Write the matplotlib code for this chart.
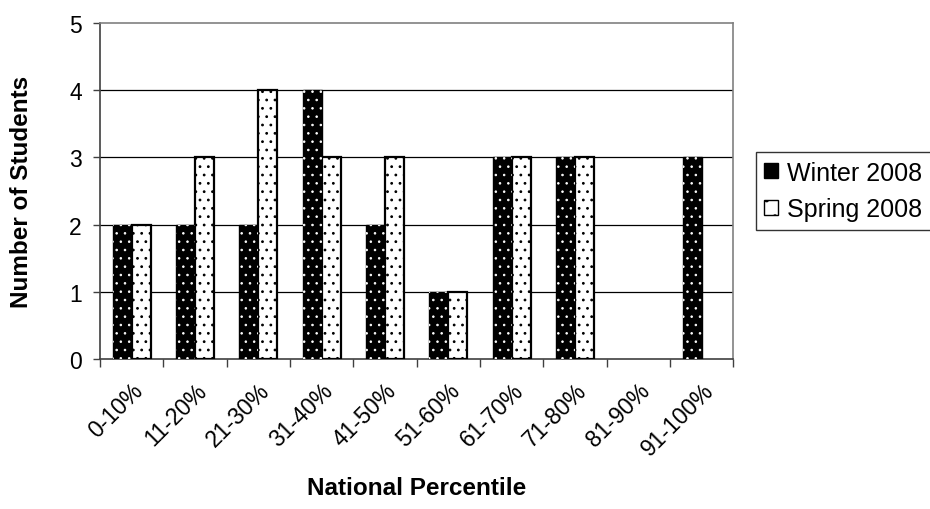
import matplotlib
matplotlib.use("Agg")
import matplotlib.pyplot as plt
import numpy as np
from matplotlib.patches import Patch
from matplotlib.ticker import FixedLocator, NullFormatter

plt.rcParams['font.family'] = ['Liberation Sans', 'DejaVu Sans']

categories = ['0-10%', '11-20%', '21-30%', '31-40%', '41-50%',
              '51-60%', '61-70%', '71-80%', '81-90%', '91-100%']
winter_2008 = [2, 2, 2, 4, 2, 1, 3, 3, 0, 3]
spring_2008 = [2, 3, 4, 3, 3, 1, 3, 3, 0, 0]
series_names = ['Winter 2008', 'Spring 2008']
y_ticks = [0, 1, 2, 3, 4, 5]

fig = plt.figure(figsize=(9.3, 5.1), dpi=100)
ax = fig.add_axes([0.1075, 0.294, 0.681, 0.659])

x = np.arange(len(categories))
w = 0.3

# Winter bars: black with white dots
with plt.rc_context({'hatch.linewidth': 0.6}):
    wb = ax.bar(x - w / 2, winter_2008, width=w, color='black', edgecolor='black',
                linewidth=1.0, zorder=3)
    wh = ax.bar(x - w / 2, winter_2008, width=w, facecolor='none', edgecolor='white',
                hatch='..', linewidth=0, zorder=4)
# Spring bars: white with black dots
with plt.rc_context({'hatch.linewidth': 0.8}):
    sb = ax.bar(x + w / 2, spring_2008, width=w, facecolor='white', edgecolor='black',
                hatch='..', linewidth=1.6, zorder=3)

for bars, vals in ((wb, winter_2008), (wh, winter_2008), (sb, spring_2008)):
    for b, v in zip(bars, vals):
        if v == 0:
            b.set_visible(False)

ax.set_xlim(-0.5, len(categories) - 0.5)
ax.set_ylim(0, 5)
ax.set_yticks(y_ticks)
ax.tick_params(axis='y', labelsize=16.5, length=5, width=1, direction='out',
               color='#404040', pad=8)

ax.set_xticks(x)
ax.set_xticklabels(categories, rotation=45, ha='right', rotation_mode='anchor',
                   fontsize=16.5)
ax.tick_params(axis='x', which='major', length=0, pad=14)
ax.xaxis.set_minor_locator(FixedLocator(np.arange(-0.5, len(categories), 1.0)))
ax.xaxis.set_minor_formatter(NullFormatter())
ax.tick_params(axis='x', which='minor', length=6, width=1, direction='out',
               color='#404040')

for yv in y_ticks[1:-1]:
    ax.axhline(yv, color='black', linewidth=0.9, zorder=1)

ax.spines['left'].set_color('#404040')
ax.spines['bottom'].set_color('#404040')
ax.spines['top'].set_color('#808080')
ax.spines['right'].set_color('#808080')
for s in ax.spines.values():
    s.set_linewidth(1.2)

ax.set_ylabel('Number of Students', fontsize=17.5, fontweight='bold', labelpad=26)
ax.set_xlabel('National Percentile', fontsize=17.5, fontweight='bold', labelpad=12)

handles = [
    Patch(facecolor='black', edgecolor='black', label=series_names[0]),
    Patch(facecolor='white', edgecolor='black', hatch='.', label=series_names[1]),
]
leg = ax.legend(handles=handles, loc='center left', bbox_to_anchor=(0.8125, 0.624),
                bbox_transform=fig.transFigure, fontsize=18, frameon=True,
                fancybox=False, edgecolor='black', handlelength=0.55,
                handleheight=0.55, handletextpad=0.35, borderpad=0.35,
                labelspacing=0.5, borderaxespad=0)
leg.get_frame().set_linewidth(1.0)

fig.savefig('out.png', dpi=100)
